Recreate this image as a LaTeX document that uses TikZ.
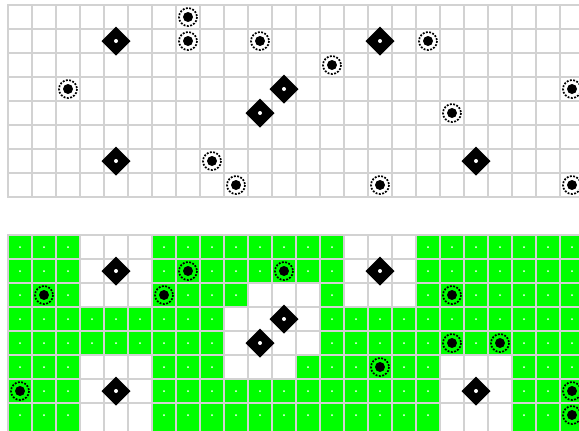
\documentclass[tikz,border=0pt]{standalone}
\definecolor{gridgray}{RGB}{210,210,210}
\definecolor{cellgreen}{RGB}{0,255,0}
\tikzset{
  diam/.pic={\fill[black] (-14.5,0)--(0,-14.5)--(14.5,0)--(0,14.5)--cycle;
             \fill[white] (0,0) circle (2);},
  ring/.pic={\draw[black,line width=1.3pt,dash pattern=on 1.4pt off 1.1pt] (0,0) circle (9);
             \fill[black] (0,0) circle (5);},
  gridline/.style={gridgray,line width=1.5pt},
  whiteblock/.style={fill=white}
}
\begin{document}
\begin{tikzpicture}[x=0.75pt,y=-0.75pt]
\useasboundingbox (0,0) rectangle (579,430);
\clip (0,0) rectangle (579,430);
\fill[white] (0,0) rectangle (579,430);
% ---------- top grid ----------
\foreach \i in {0,...,24} \draw[gridline] (8+24*\i,5) -- (8+24*\i,197);
\foreach \j in {0,...,8} \draw[gridline] (7.25,5+24*\j) -- (590,5+24*\j);
\foreach \c/\r [count=\k] in {7/0,7/1,10/1,17/1,13/2,2/3,23/3,18/4,8/6,9/7,15/7,23/7}
  \pic (tc\k) at (20+24*\c,17+24*\r) {ring};
\foreach \c/\r [count=\k] in {4/1,15/1,11/3,10/4,4/6,19/6}
  \pic (td\k) at (20+24*\c,17+24*\r) {diam};
% ---------- bottom grid ----------
\fill[cellgreen] (8,235) rectangle (590,432);
\foreach \c in {0,...,23} \foreach \r in {0,...,7}
  \fill[white] (20+24*\c,247+24*\r) circle (1);
\foreach \c/\r/\e in {4/1/0,15/1/0,11/3/0,10/4/0,4/6/6,19/6/6}
  \fill[whiteblock] (8+24*\c-24,235+24*\r-24) rectangle (8+24*\c+48,235+24*\r+48+\e);
\foreach \i in {0,...,24} \draw[gridline] (8+24*\i,234.25) -- (8+24*\i,432);
\foreach \j in {0,...,7} \draw[gridline] (7.25,235+24*\j) -- (590,235+24*\j);
\foreach \c/\r [count=\k] in {7/1,11/1,1/2,6/2,18/2,18/4,20/4,15/5,0/6,23/6,23/7}
  \pic (bc\k) at (20+24*\c,247+24*\r) {ring};
\foreach \c/\r [count=\k] in {4/1,15/1,11/3,10/4,4/6,19/6}
  \pic (bd\k) at (20+24*\c,247+24*\r) {diam};
\end{tikzpicture}
\end{document}
